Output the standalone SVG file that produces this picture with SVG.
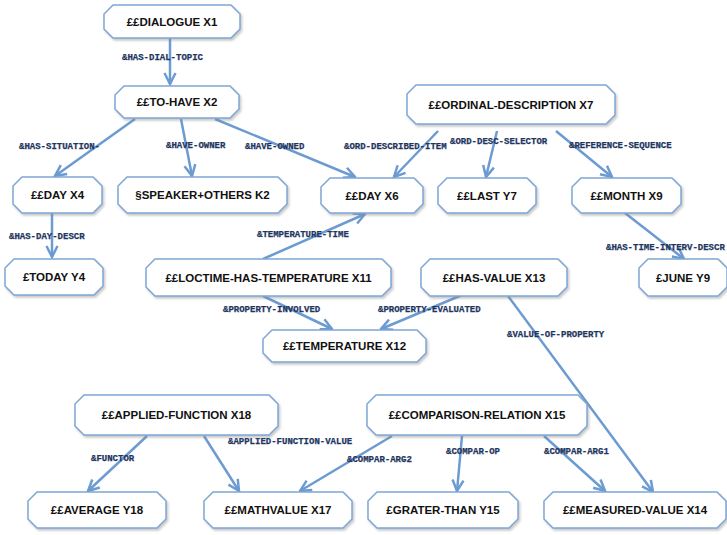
<svg xmlns="http://www.w3.org/2000/svg" width="727" height="535" viewBox="0 0 727 535">
<defs>
<style>
.n polygon{fill:#fff;stroke:#7ea6d6;stroke-width:1.5;filter:url(#sh)}
.n text{font-family:"Liberation Sans",Arial,sans-serif;font-weight:bold;font-size:11.5px;fill:#111;text-anchor:middle}
.e line{stroke:#6c9bd2;stroke-width:2.5;marker-end:url(#ah)}
.l text{font-family:"Liberation Mono","Courier New",monospace;font-weight:bold;font-size:9px;fill:#1e3560;stroke:#1e3560;stroke-width:0.25}
</style>
<filter id="sh" x="-10%" y="-20%" width="125%" height="160%">
<feDropShadow dx="1.5" dy="2" stdDeviation="1.2" flood-color="#888" flood-opacity="0.45"/>
</filter>
<marker id="ah" viewBox="0 0 14 14" markerWidth="14" markerHeight="14" refX="12.5" refY="7" orient="auto" markerUnits="userSpaceOnUse">
<path d="M1.5,1.5 L12.5,7 L1.5,12.5" fill="none" stroke="#6c9bd2" stroke-width="2.5"/>
</marker>
</defs>
<rect width="727" height="535" fill="#fff"/>
<g id="connectors" class="e">
<line x1="170" y1="38" x2="170" y2="84"/>
<line x1="135" y1="119" x2="55" y2="176"/>
<line x1="181" y1="119" x2="192" y2="176"/>
<line x1="215" y1="119" x2="355" y2="177"/>
<line x1="438" y1="131" x2="394" y2="177"/>
<line x1="497" y1="131" x2="486" y2="177"/>
<line x1="556" y1="131" x2="612" y2="177"/>
<line x1="52" y1="213" x2="52" y2="257"/>
<line x1="263" y1="259" x2="365" y2="214"/>
<line x1="263" y1="296" x2="332" y2="329"/>
<line x1="462" y1="295" x2="381" y2="329"/>
<line x1="508" y1="296" x2="653" y2="492"/>
<line x1="625" y1="213" x2="684" y2="259"/>
<line x1="147" y1="436" x2="88" y2="491"/>
<line x1="204" y1="436" x2="239" y2="491"/>
<line x1="392" y1="436" x2="300" y2="491"/>
<line x1="462" y1="436" x2="457" y2="491"/>
<line x1="544" y1="436" x2="605" y2="491"/>
</g>
<g id="labels" class="l">
<text x="122" y="60">&amp;HAS-DIAL-TOPIC</text>
<text x="19" y="149">&amp;HAS-SITUATION-</text>
<text x="166" y="148">&amp;HAVE-OWNER</text>
<text x="245" y="149">&amp;HAVE-OWNED</text>
<text x="344" y="149">&amp;ORD-DESCRIBED-ITEM</text>
<text x="450" y="144">&amp;ORD-DESC-SELECTOR</text>
<text x="569" y="148">&amp;REFERENCE-SEQUENCE</text>
<text x="9" y="239">&amp;HAS-DAY-DESCR</text>
<text x="257" y="237">&amp;TEMPERATURE-TIME</text>
<text x="223" y="312">&amp;PROPERTY-INVOLVED</text>
<text x="378" y="312">&amp;PROPERTY-EVALUATED</text>
<text x="507" y="337">&amp;VALUE-OF-PROPERTY</text>
<text x="606" y="250">&amp;HAS-TIME-INTERV-DESCR</text>
<text x="91" y="461">&amp;FUNCTOR</text>
<text x="228" y="444">&amp;APPLIED-FUNCTION-VALUE</text>
<text x="347" y="462">&amp;COMPAR-ARG2</text>
<text x="446" y="454">&amp;COMPAR-OP</text>
<text x="544" y="454">&amp;COMPAR-ARG1</text>
</g>
<g id="X1" class="n"><polygon points="113,5 231,5 240,14 240,29 231,38 113,38 104,29 104,14"/><text x="172" y="26">££DIALOGUE X1</text></g>
<g id="X2" class="n"><polygon points="124,86 230,86 239,95 239,109 230,118 124,118 115,109 115,95"/><text x="177" y="106">££TO-HAVE X2</text></g>
<g id="X7" class="n"><polygon points="416,85 606,85 615,94 615,115 606,124 416,124 407,115 407,94"/><text x="511" y="109">££ORDINAL-DESCRIPTION X7</text></g>
<g id="X4" class="n"><polygon points="22,177 93,177 102,186 102,204 93,213 22,213 13,204 13,186"/><text x="57.5" y="199">££DAY X4</text></g>
<g id="K2" class="n"><polygon points="127,177 278,177 287,186 287,204 278,213 127,213 118,204 118,186"/><text x="202.5" y="199">§SPEAKER+OTHERS K2</text></g>
<g id="X6" class="n"><polygon points="330,178 414,178 423,187 423,204 414,213 330,213 321,204 321,187"/><text x="372" y="200">££DAY X6</text></g>
<g id="Y7" class="n"><polygon points="447,178 527,178 536,187 536,204 527,213 447,213 438,204 438,187"/><text x="487" y="200">££LAST Y7</text></g>
<g id="X9" class="n"><polygon points="581,178 672,178 681,187 681,204 672,213 581,213 572,204 572,187"/><text x="626.5" y="200">££MONTH X9</text></g>
<g id="Y4" class="n"><polygon points="14,259 94,259 103,268 103,286 94,295 14,295 5,286 5,268"/><text x="54" y="281">£TODAY Y4</text></g>
<g id="X11" class="n"><polygon points="155,259 382,259 391,268 391,287 382,296 155,296 146,287 146,268"/><text x="268.5" y="282">££LOCTIME-HAS-TEMPERATURE X11</text></g>
<g id="X13" class="n"><polygon points="430,259 558,259 567,268 567,287 558,296 430,296 421,287 421,268"/><text x="494" y="282">££HAS-VALUE X13</text></g>
<g id="Y9" class="n"><polygon points="648,259 718,259 727,268 727,287 718,296 648,296 639,287 639,268"/><text x="683" y="282">£JUNE Y9</text></g>
<g id="X12" class="n"><polygon points="272,330 417,330 426,339 426,353 417,362 272,362 263,353 263,339"/><text x="344.5" y="350">££TEMPERATURE X12</text></g>
<g id="X18" class="n"><polygon points="84,395 269,395 278,404 278,426 269,435 84,435 75,426 75,404"/><text x="176.5" y="419">££APPLIED-FUNCTION X18</text></g>
<g id="X15" class="n"><polygon points="376,395 578,395 587,404 587,426 578,435 376,435 367,426 367,404"/><text x="477" y="419">££COMPARISON-RELATION X15</text></g>
<g id="Y18" class="n"><polygon points="37,492 157,492 166,501 166,519 157,528 37,528 28,519 28,501"/><text x="97" y="514">££AVERAGE Y18</text></g>
<g id="X17" class="n"><polygon points="213,492 343,492 352,501 352,519 343,528 213,528 204,519 204,501"/><text x="278" y="514">££MATHVALUE X17</text></g>
<g id="Y15" class="n"><polygon points="377,492 509,492 518,501 518,519 509,528 377,528 368,519 368,501"/><text x="443" y="514">£GRATER-THAN Y15</text></g>
<g id="X14" class="n"><polygon points="553,492 717,492 726,501 726,519 717,528 553,528 544,519 544,501"/><text x="635" y="514">££MEASURED-VALUE X14</text></g>
</svg>
